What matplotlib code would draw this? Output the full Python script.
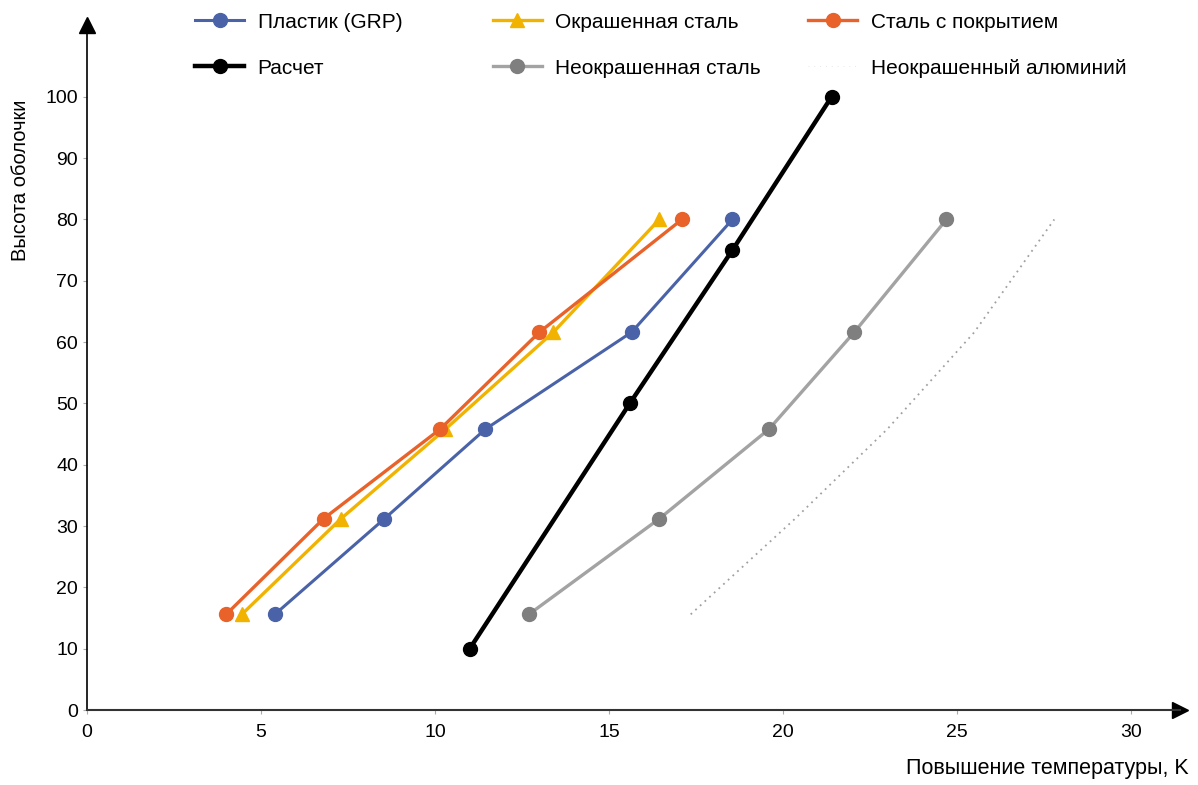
import numpy as np
import matplotlib.pyplot as plt

plt.rcParams['font.family'] = ['Liberation Sans', 'DejaVu Sans']

# высоты точек (одинаковые для всех замеров)
heights = [15.6, 31.2, 45.8, 61.6, 80]

grp_x = [5.4, 8.55, 11.45, 15.65, 18.55]
painted_x = [4.45, 7.3, 10.3, 13.4, 16.45]
coated_x = [4.0, 6.8, 10.15, 13.0, 17.1]
unpainted_x = [12.7, 16.45, 19.6, 22.05, 24.7]
alu_x = [17.35, 20.35, 23.0, 25.5, 27.8]

calc_x = [11.0, 15.6, 18.55, 21.4]
calc_y = [10, 50, 75, 100]

xticks = [0, 5, 10, 15, 20, 25, 30]
yticks = [0, 10, 20, 30, 40, 50, 60, 70, 80, 90, 100]

fig = plt.figure(figsize=(11.98, 7.85), dpi=100)
ax = fig.add_axes([0.0726, 0.0955, 0.912, 0.8726])

h_grp, = ax.plot(grp_x, heights, '-o', color='#4a63a8', lw=2.2, ms=10)
h_calc, = ax.plot(calc_x, calc_y, '-o', color='black', lw=3.2, ms=10)
h_paint, = ax.plot(painted_x, heights, '-^', color='#f2b300', lw=2.4, ms=10)
ax.plot(unpainted_x, heights, '-', color='#a3a3a3', lw=2.4)
ax.plot(unpainted_x, heights, 'o', color='#7f7f7f', ms=10)
h_unp, = ax.plot([], [], '-o', color='#a3a3a3', mfc='#7f7f7f', mec='#7f7f7f', lw=2.4, ms=10)
h_coat, = ax.plot(coated_x, heights, '-o', color='#e8622a', lw=2.4, ms=10)
ax.plot(alu_x, heights, color='#a0a0a0', lw=1.3, ls=(0, (1, 2.5)))
h_alu, = ax.plot([], [], color='#e0e0e0', lw=0.6, ls=(0, (1, 6)))

# легенда: три колонки по две строки
cols = [
    ([h_grp, h_calc], ['Пластик (GRP)', 'Расчет'], 0.1628),
    ([h_paint, h_unp], ['Окрашенная сталь', 'Неокрашенная сталь'], 0.4115),
    ([h_coat, h_alu], ['Сталь с покрытием', 'Неокрашенный алюминий'], 0.6745),
]
for hs, ls, x0 in cols:
    fig.legend(hs, ls, frameon=False, fontsize=15, loc='upper left',
               bbox_to_anchor=(x0, 0.984), borderpad=0, borderaxespad=0,
               handlelength=2.35, handletextpad=0.65, labelspacing=1.3)

ax.set_xlim(0, 31.4)
ax.set_ylim(0, 111.7)
ax.set_xticks(xticks)
ax.set_yticks(yticks)
ax.tick_params(labelsize=14, length=3, color='#aaaaaa', labelcolor='black')
ax.tick_params(axis='x', pad=7)

for s in ['top', 'right']:
    ax.spines[s].set_visible(False)
ax.spines['left'].set_linewidth(1.2)
ax.spines['bottom'].set_linewidth(1.5)
ax.spines['bottom'].set_color('#333333')

# стрелки на осях
ax.plot(1, 0, '>', color='black', ms=11, transform=ax.transAxes, clip_on=False)
ax.plot(0, 1, '^', color='black', ms=11, transform=ax.transAxes, clip_on=False)

fig.text(0.017, 0.77, 'Высота оболочки', rotation=90, ha='center', va='center', fontsize=14.5)
fig.text(0.992, 0.008, 'Повышение температуры, K', ha='right', va='bottom', fontsize=15.5)

fig.savefig('out.png', dpi=100)
